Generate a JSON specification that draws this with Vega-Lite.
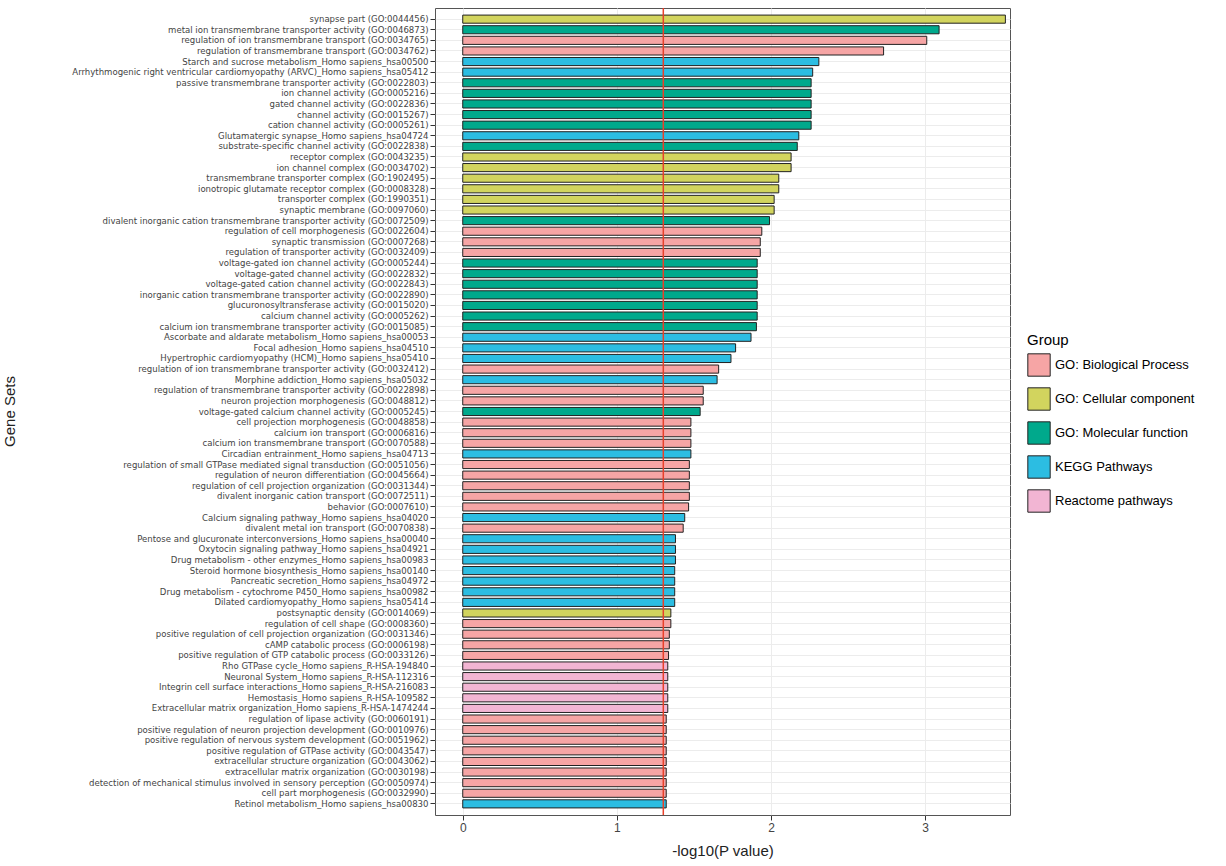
{
"$schema":"https://vega.github.io/schema/vega-lite/v6.json",
"width":575,"height":807,
"padding":{"left":2,"top":7,"right":5,"bottom":5},
"background":"white",
"config":{"font":"Liberation Sans","view":{"stroke":"#555","strokeWidth":1},
"axis":{"gridColor":"#ececec","tickColor":"#333","domain":false,"labelColor":"#444","titleColor":"#222","titleFontWeight":"normal","titleFontSize":15}},
"layer":[
{"data":{"values":[
{"name":"synapse part (GO:0044456)","group":"GO: Cellular component","v":3.52},
{"name":"metal ion transmembrane transporter activity (GO:0046873)","group":"GO: Molecular function","v":3.09},
{"name":"regulation of ion transmembrane transport (GO:0034765)","group":"GO: Biological Process","v":3.01},
{"name":"regulation of transmembrane transport (GO:0034762)","group":"GO: Biological Process","v":2.73},
{"name":"Starch and sucrose metabolism_Homo sapiens_hsa00500","group":"KEGG Pathways","v":2.31},
{"name":"Arrhythmogenic right ventricular cardiomyopathy (ARVC)_Homo sapiens_hsa05412","group":"KEGG Pathways","v":2.27},
{"name":"passive transmembrane transporter activity (GO:0022803)","group":"GO: Molecular function","v":2.26},
{"name":"ion channel activity (GO:0005216)","group":"GO: Molecular function","v":2.26},
{"name":"gated channel activity (GO:0022836)","group":"GO: Molecular function","v":2.26},
{"name":"channel activity (GO:0015267)","group":"GO: Molecular function","v":2.26},
{"name":"cation channel activity (GO:0005261)","group":"GO: Molecular function","v":2.26},
{"name":"Glutamatergic synapse_Homo sapiens_hsa04724","group":"KEGG Pathways","v":2.18},
{"name":"substrate-specific channel activity (GO:0022838)","group":"GO: Molecular function","v":2.17},
{"name":"receptor complex (GO:0043235)","group":"GO: Cellular component","v":2.13},
{"name":"ion channel complex (GO:0034702)","group":"GO: Cellular component","v":2.13},
{"name":"transmembrane transporter complex (GO:1902495)","group":"GO: Cellular component","v":2.05},
{"name":"ionotropic glutamate receptor complex (GO:0008328)","group":"GO: Cellular component","v":2.05},
{"name":"transporter complex (GO:1990351)","group":"GO: Cellular component","v":2.02},
{"name":"synaptic membrane (GO:0097060)","group":"GO: Cellular component","v":2.02},
{"name":"divalent inorganic cation transmembrane transporter activity (GO:0072509)","group":"GO: Molecular function","v":1.99},
{"name":"regulation of cell morphogenesis (GO:0022604)","group":"GO: Biological Process","v":1.94},
{"name":"synaptic transmission (GO:0007268)","group":"GO: Biological Process","v":1.93},
{"name":"regulation of transporter activity (GO:0032409)","group":"GO: Biological Process","v":1.93},
{"name":"voltage-gated ion channel activity (GO:0005244)","group":"GO: Molecular function","v":1.91},
{"name":"voltage-gated channel activity (GO:0022832)","group":"GO: Molecular function","v":1.91},
{"name":"voltage-gated cation channel activity (GO:0022843)","group":"GO: Molecular function","v":1.91},
{"name":"inorganic cation transmembrane transporter activity (GO:0022890)","group":"GO: Molecular function","v":1.91},
{"name":"glucuronosyltransferase activity (GO:0015020)","group":"GO: Molecular function","v":1.91},
{"name":"calcium channel activity (GO:0005262)","group":"GO: Molecular function","v":1.91},
{"name":"calcium ion transmembrane transporter activity (GO:0015085)","group":"GO: Molecular function","v":1.905},
{"name":"Ascorbate and aldarate metabolism_Homo sapiens_hsa00053","group":"KEGG Pathways","v":1.87},
{"name":"Focal adhesion_Homo sapiens_hsa04510","group":"KEGG Pathways","v":1.77},
{"name":"Hypertrophic cardiomyopathy (HCM)_Homo sapiens_hsa05410","group":"KEGG Pathways","v":1.74},
{"name":"regulation of ion transmembrane transporter activity (GO:0032412)","group":"GO: Biological Process","v":1.66},
{"name":"Morphine addiction_Homo sapiens_hsa05032","group":"KEGG Pathways","v":1.65},
{"name":"regulation of transmembrane transporter activity (GO:0022898)","group":"GO: Biological Process","v":1.56},
{"name":"neuron projection morphogenesis (GO:0048812)","group":"GO: Biological Process","v":1.56},
{"name":"voltage-gated calcium channel activity (GO:0005245)","group":"GO: Molecular function","v":1.54},
{"name":"cell projection morphogenesis (GO:0048858)","group":"GO: Biological Process","v":1.48},
{"name":"calcium ion transport (GO:0006816)","group":"GO: Biological Process","v":1.48},
{"name":"calcium ion transmembrane transport (GO:0070588)","group":"GO: Biological Process","v":1.48},
{"name":"Circadian entrainment_Homo sapiens_hsa04713","group":"KEGG Pathways","v":1.48},
{"name":"regulation of small GTPase mediated signal transduction (GO:0051056)","group":"GO: Biological Process","v":1.47},
{"name":"regulation of neuron differentiation (GO:0045664)","group":"GO: Biological Process","v":1.47},
{"name":"regulation of cell projection organization (GO:0031344)","group":"GO: Biological Process","v":1.47},
{"name":"divalent inorganic cation transport (GO:0072511)","group":"GO: Biological Process","v":1.47},
{"name":"behavior (GO:0007610)","group":"GO: Biological Process","v":1.465},
{"name":"Calcium signaling pathway_Homo sapiens_hsa04020","group":"KEGG Pathways","v":1.44},
{"name":"divalent metal ion transport (GO:0070838)","group":"GO: Biological Process","v":1.43},
{"name":"Pentose and glucuronate interconversions_Homo sapiens_hsa00040","group":"KEGG Pathways","v":1.38},
{"name":"Oxytocin signaling pathway_Homo sapiens_hsa04921","group":"KEGG Pathways","v":1.38},
{"name":"Drug metabolism - other enzymes_Homo sapiens_hsa00983","group":"KEGG Pathways","v":1.38},
{"name":"Steroid hormone biosynthesis_Homo sapiens_hsa00140","group":"KEGG Pathways","v":1.375},
{"name":"Pancreatic secretion_Homo sapiens_hsa04972","group":"KEGG Pathways","v":1.375},
{"name":"Drug metabolism - cytochrome P450_Homo sapiens_hsa00982","group":"KEGG Pathways","v":1.375},
{"name":"Dilated cardiomyopathy_Homo sapiens_hsa05414","group":"KEGG Pathways","v":1.375},
{"name":"postsynaptic density (GO:0014069)","group":"GO: Cellular component","v":1.35},
{"name":"regulation of cell shape (GO:0008360)","group":"GO: Biological Process","v":1.35},
{"name":"positive regulation of cell projection organization (GO:0031346)","group":"GO: Biological Process","v":1.34},
{"name":"cAMP catabolic process (GO:0006198)","group":"GO: Biological Process","v":1.34},
{"name":"positive regulation of GTP catabolic process (GO:0033126)","group":"GO: Biological Process","v":1.335},
{"name":"Rho GTPase cycle_Homo sapiens_R-HSA-194840","group":"Reactome pathways","v":1.33},
{"name":"Neuronal System_Homo sapiens_R-HSA-112316","group":"Reactome pathways","v":1.33},
{"name":"Integrin cell surface interactions_Homo sapiens_R-HSA-216083","group":"Reactome pathways","v":1.33},
{"name":"Hemostasis_Homo sapiens_R-HSA-109582","group":"Reactome pathways","v":1.33},
{"name":"Extracellular matrix organization_Homo sapiens_R-HSA-1474244","group":"Reactome pathways","v":1.33},
{"name":"regulation of lipase activity (GO:0060191)","group":"GO: Biological Process","v":1.32},
{"name":"positive regulation of neuron projection development (GO:0010976)","group":"GO: Biological Process","v":1.32},
{"name":"positive regulation of nervous system development (GO:0051962)","group":"GO: Biological Process","v":1.32},
{"name":"positive regulation of GTPase activity (GO:0043547)","group":"GO: Biological Process","v":1.32},
{"name":"extracellular structure organization (GO:0043062)","group":"GO: Biological Process","v":1.32},
{"name":"extracellular matrix organization (GO:0030198)","group":"GO: Biological Process","v":1.32},
{"name":"detection of mechanical stimulus involved in sensory perception (GO:0050974)","group":"GO: Biological Process","v":1.32},
{"name":"cell part morphogenesis (GO:0032990)","group":"GO: Biological Process","v":1.32},
{"name":"Retinol metabolism_Homo sapiens_hsa00830","group":"KEGG Pathways","v":1.32}
]},
"mark":{"type":"bar","stroke":"#222","strokeWidth":1,"height":{"band":0.85}},
"encoding":{
"y":{"field":"name","type":"nominal","sort":null,"title":"Gene Sets","scale":{"paddingOuter":0.6},
"axis":{"labelFont":"DejaVu Sans Condensed","labelFontSize":9.5,"labelLimit":500,"grid":true,"titleFontSize":15,"titleX":-418,"titleY":403,"titleAnchor":null}},
"x":{"field":"v","type":"quantitative","title":"-log10(P value)","scale":{"domain":[-0.18,3.55],"nice":false},
"axis":{"values":[0,1,2,3],"format":"d","labelFontSize":12,"titlePadding":10}},
"fill":{"field":"group","type":"nominal","title":"Group",
"scale":{"domain":["GO: Biological Process","GO: Cellular component","GO: Molecular function","KEGG Pathways","Reactome pathways"],
"range":["#F6A5A5","#D2D45E","#00A98C","#2CBDE2","#F2B5D3"]},
"legend":{"titleFontSize":15,"titleFontWeight":"normal","labelFontSize":13,"symbolType":"square","symbolSize":500,"symbolStrokeColor":"#222","symbolStrokeWidth":1,"rowPadding":6,"orient":"none","legendX":592,"legendY":325}}
}},
{"data":{"values":[{"p":1.301}]},"mark":{"type":"rule","color":"#E8402A","strokeWidth":1.5},"encoding":{"x":{"field":"p","type":"quantitative"}}}
]
}
